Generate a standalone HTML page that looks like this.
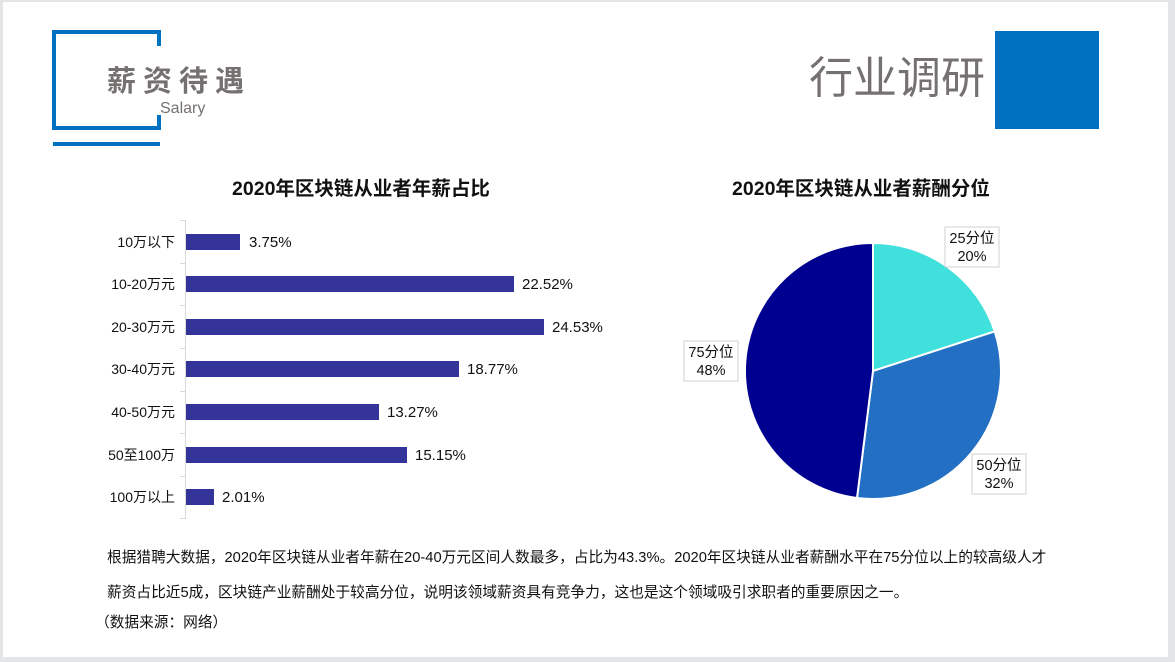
<!DOCTYPE html>
<html><head><meta charset="utf-8"><style>
body{margin:0;width:1175px;height:662px;background:#e4e5e7;position:relative;overflow:hidden;font-family:"Liberation Sans","Noto Sans CJK SC",sans-serif}
.page{position:absolute;left:3px;top:2px;width:1165px;height:655px;background:#fff}
.a{position:absolute}
</style></head><body>
<div class="page"></div>
<div class="a" style="left:52px;top:30px;width:109px;height:4px;background:#0070c0"></div>
<div class="a" style="left:52px;top:30px;width:4px;height:100px;background:#0070c0"></div>
<div class="a" style="left:52px;top:126px;width:109px;height:4px;background:#0070c0"></div>
<div class="a" style="left:157px;top:30px;width:4px;height:16px;background:#0070c0"></div>
<div class="a" style="left:157px;top:115px;width:4px;height:15px;background:#0070c0"></div>
<div class="a" style="left:53px;top:142px;width:107px;height:4px;background:#0070c0"></div>
<div class="a" style="left:107px;top:58px;font-size:29px;font-weight:bold;color:#767171;letter-spacing:7px;white-space:nowrap">薪资待遇</div>
<div class="a" style="left:160px;top:100px;font-size:16px;color:#767171">Salary</div>
<div class="a" style="left:809px;top:53px;font-size:44px;color:#767171;white-space:nowrap;line-height:52px">行业调研</div>
<div class="a" style="left:995px;top:31px;width:104px;height:98px;background:#0070c0"></div>

<svg class="a" style="left:0;top:0" width="1175" height="662" font-family="Liberation Sans,Noto Sans CJK SC,sans-serif">
<text x="361" y="195" font-size="19.5" font-weight="bold" text-anchor="middle" fill="#111">2020年区块链从业者年薪占比</text>
<text x="861" y="195" font-size="19.5" font-weight="bold" text-anchor="middle" fill="#111">2020年区块链从业者薪酬分位</text>
<line x1="185.5" y1="220" x2="185.5" y2="518" stroke="#d9d9d9"/>
<g stroke="#d9d9d9">
<line x1="180" y1="220.5" x2="186" y2="220.5"/><line x1="180" y1="263.5" x2="186" y2="263.5"/><line x1="180" y1="305.5" x2="186" y2="305.5"/><line x1="180" y1="348.5" x2="186" y2="348.5"/><line x1="180" y1="391.5" x2="186" y2="391.5"/><line x1="180" y1="433.5" x2="186" y2="433.5"/><line x1="180" y1="476.5" x2="186" y2="476.5"/><line x1="180" y1="518.5" x2="186" y2="518.5"/>
</g>
<g fill="#333399">
<rect x="186" y="234" width="54" height="16"/>
<rect x="186" y="276" width="328" height="16"/>
<rect x="186" y="319" width="358" height="16"/>
<rect x="186" y="361" width="273" height="16"/>
<rect x="186" y="404" width="193" height="16"/>
<rect x="186" y="447" width="221" height="16"/>
<rect x="186" y="489" width="28" height="16"/>
</g>
<g font-size="14" fill="#111" text-anchor="end">
<text x="175" y="247">10万以下</text><text x="175" y="289">10-20万元</text><text x="175" y="332">20-30万元</text><text x="175" y="374">30-40万元</text><text x="175" y="417">40-50万元</text><text x="175" y="460">50至100万</text><text x="175" y="502">100万以上</text>
</g>
<g font-size="15" fill="#111">
<text x="249" y="247">3.75%</text><text x="522" y="289">22.52%</text><text x="552" y="332">24.53%</text><text x="467" y="374">18.77%</text><text x="387" y="417">13.27%</text><text x="415" y="460">15.15%</text><text x="222" y="502">2.01%</text>
</g>
<g stroke="#fff" stroke-width="2">
<path d="M873 371 L873 243 A128 128 0 0 1 994.7 331.4 Z" fill="#40e0dc"/>
<path d="M873 371 L994.7 331.4 A128 128 0 0 1 857 498 Z" fill="#236fc3"/>
<path d="M873 371 L857 498 A128 128 0 0 1 873 243 Z" fill="#000090"/>
</g>
<g fill="#fff" stroke="#d0d0d0">
<rect x="945" y="227" width="54" height="40"/>
<rect x="684" y="341" width="54" height="40"/>
<rect x="972" y="454" width="54" height="40"/>
</g>
<g font-size="14.5" fill="#111" text-anchor="middle">
<text x="972" y="243">25分位</text><text x="972" y="261">20%</text>
<text x="711" y="357">75分位</text><text x="711" y="375">48%</text>
<text x="999" y="470">50分位</text><text x="999" y="488">32%</text>
</g>
<g font-size="14.7" fill="#111">
<text x="107" y="562">根据猎聘大数据，2020年区块链从业者年薪在20-40万元区间人数最多，占比为43.3%。2020年区块链从业者薪酬水平在75分位以上的较高级人才</text>
<text x="107" y="597">薪资占比近5成，区块链产业薪酬处于较高分位，说明该领域薪资具有竞争力，这也是这个领域吸引求职者的重要原因之一。</text>
<text x="95" y="627">（数据来源：网络）</text>
</g>
</svg>
</body></html>
